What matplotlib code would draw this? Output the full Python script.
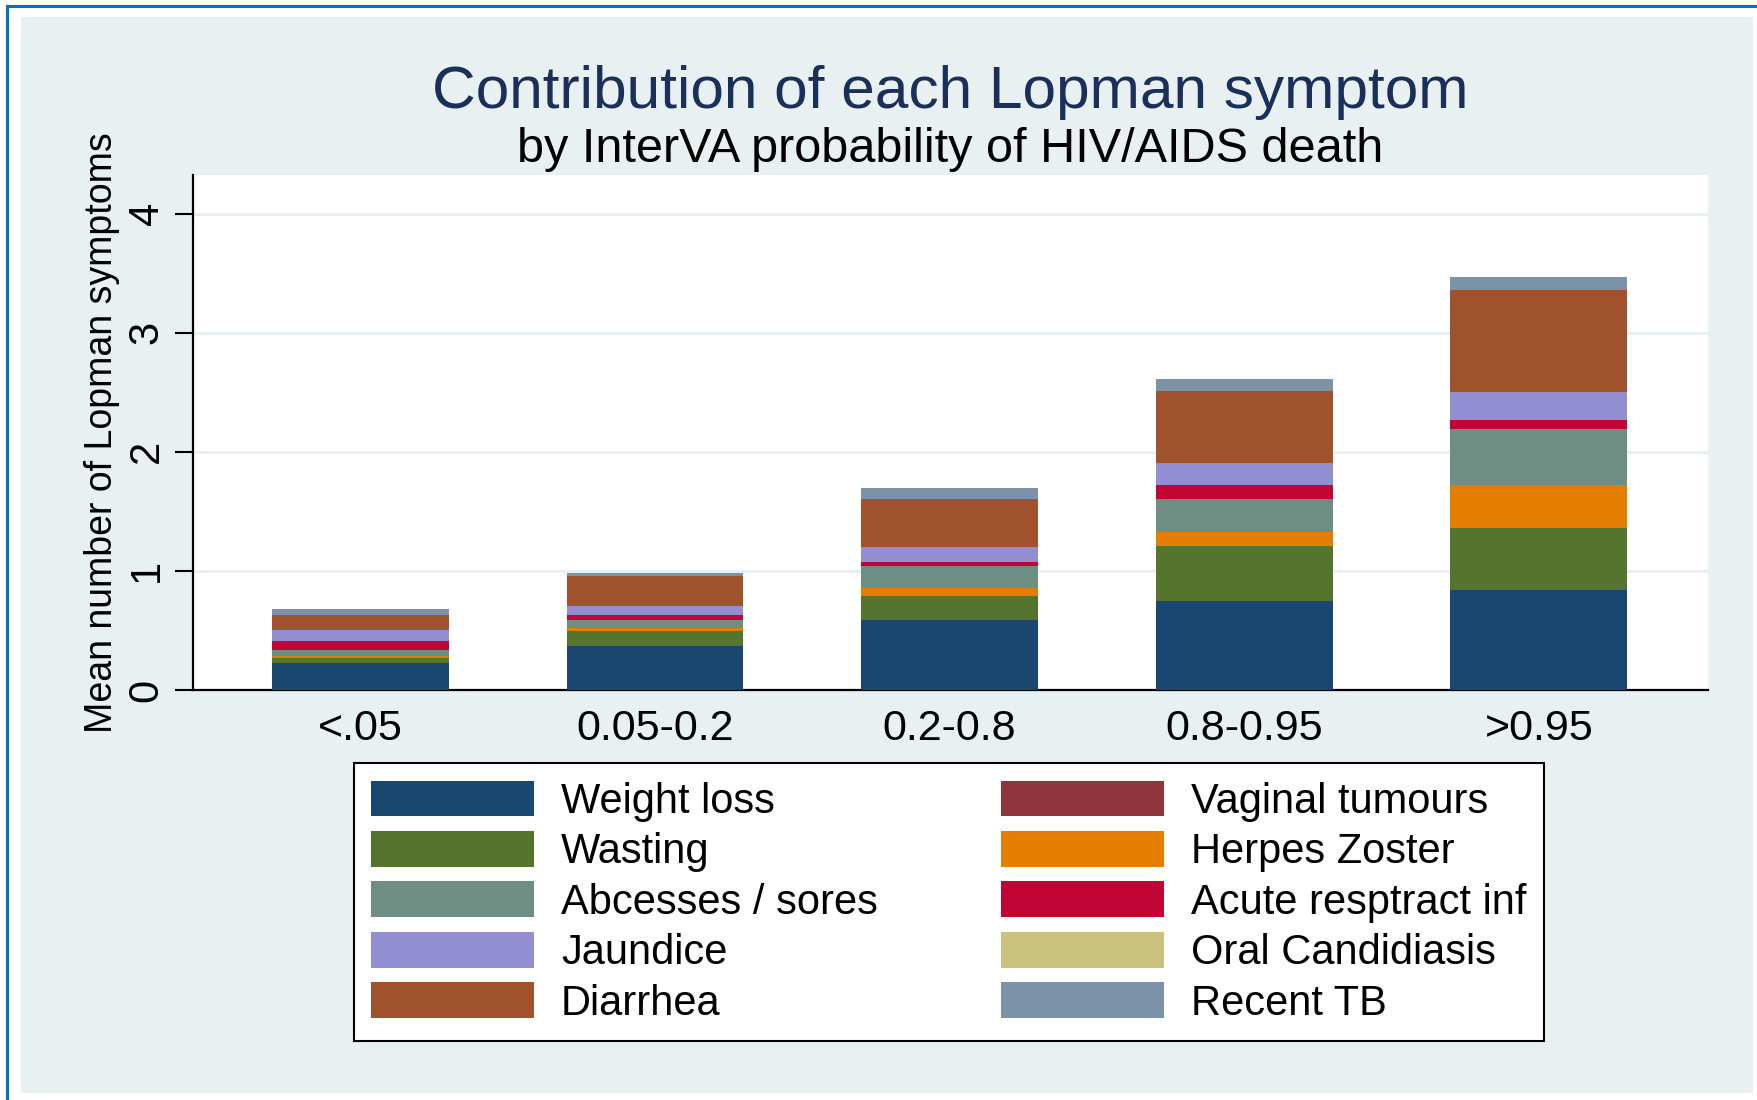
import numpy as np
import matplotlib
matplotlib.use("Agg")
import matplotlib.pyplot as plt
from matplotlib.patches import Rectangle, Patch
from matplotlib.lines import Line2D

plt.rcParams['font.family'] = ['Liberation Sans', 'DejaVu Sans']

# categories of InterVA probability
groups = ["<.05", "0.05-0.2", "0.2-0.8", "0.8-0.95", ">0.95"]

# mean number of symptoms, stacked bottom to top
weight_loss = [0.224, 0.369, 0.590, 0.747, 0.840]
vaginal_tumours = [0.0, 0.0, 0.0, 0.0, 0.0]
wasting = [0.045, 0.129, 0.199, 0.460, 0.520]
herpes_zoster = [0.014, 0.025, 0.067, 0.120, 0.361]
abcesses = [0.053, 0.067, 0.185, 0.277, 0.468]
acute_resp = [0.075, 0.037, 0.034, 0.117, 0.075]
jaundice = [0.095, 0.078, 0.128, 0.182, 0.236]
oral_candidiasis = [0.0, 0.0, 0.0, 0.0, 0.0]
diarrhea = [0.124, 0.255, 0.401, 0.608, 0.861]
recent_tb = [0.048, 0.020, 0.092, 0.100, 0.109]

series = [
    ("Weight loss", weight_loss, "#1A476F"),
    ("Vaginal tumours", vaginal_tumours, "#90353B"),
    ("Wasting", wasting, "#55752F"),
    ("Herpes Zoster", herpes_zoster, "#E37E00"),
    ("Abcesses / sores", abcesses, "#6E8E84"),
    ("Acute resptract inf", acute_resp, "#C10534"),
    ("Jaundice", jaundice, "#938DD2"),
    ("Oral Candidiasis", oral_candidiasis, "#CAC27E"),
    ("Diarrhea", diarrhea, "#A0522D"),
    ("Recent TB", recent_tb, "#7B92A8"),
]

fig = plt.figure(figsize=(17.58, 11), dpi=100)
fig.patch.set_facecolor("white")

# light background panel + blue frame
fig.patches.append(Rectangle((21/1758, 1-1093/1100), (1753-21)/1758, (1093-17)/1100,
                             transform=fig.transFigure, facecolor="#E8F0F2", edgecolor="none", zorder=-10))
fig.lines.append(Line2D([7/1758, 7/1758], [0, 1-6/1100], transform=fig.transFigure, color="#0070C0", lw=2.2))
fig.lines.append(Line2D([7/1758, 1], [1-6/1100, 1-6/1100], transform=fig.transFigure, color="#0070C0", lw=2.2))

ax = fig.add_axes([193/1758, 1-690/1100, (1708-193)/1758, (690-175)/1100])
ax.set_facecolor("white")

x = np.arange(len(groups))
bottom = np.zeros(len(groups))
handles = {}
for name, vals, col in series:
    vals = np.array(vals)
    ax.bar(x, vals, 0.6, bottom=bottom, color=col, linewidth=0, zorder=3)
    bottom += vals
    handles[name] = Patch(facecolor=col, edgecolor="none")

ax.set_xlim(-0.5676, 4.574)
ax.set_ylim(0, 4.324)
ax.set_yticks([0, 1, 2, 3, 4])
ax.set_yticklabels(["0", "1", "2", "3", "4"], rotation=90, va="center")
ax.set_xticks(x)
ax.set_xticklabels(groups)
ax.tick_params(axis="x", length=0, pad=14, labelsize=31)
ax.tick_params(axis="y", length=13, width=1.5, pad=6, labelsize=30)
ax.grid(axis="y", color="#E8F0F2", linewidth=2.2, zorder=0)
ax.set_axisbelow(True)
for s in ["top", "right"]:
    ax.spines[s].set_visible(False)
ax.spines["left"].set_linewidth(1.6)
ax.spines["bottom"].set_linewidth(1.6)
ax.set_ylabel("Mean number of Lopman symptoms", fontsize=27, labelpad=5)

fig.text(950/1758, 1-92/1100, "Contribution of each Lopman symptom", fontsize=43.5,
         color="#1A2F5A", ha="center", va="center")
fig.text(950/1758, 1-150/1100, "by InterVA probability of HIV/AIDS death", fontsize=35,
         color="black", ha="center", va="center")

# legend filled row by row like the original
order = ["Weight loss", "Wasting", "Abcesses / sores", "Jaundice", "Diarrhea",
         "Vaginal tumours", "Herpes Zoster", "Acute resptract inf", "Oral Candidiasis", "Recent TB"]
leg = fig.legend([handles[n] for n in order], order, ncol=2, loc="upper left",
                 bbox_to_anchor=(354/1758, 1-1040/1100, (1544-354)/1758, (1040-763)/1100),
                 mode="expand", borderaxespad=0, fontsize=30, handlelength=3.9, handleheight=0.95,
                 handletextpad=0.65, labelspacing=0.22, borderpad=0.42, fancybox=False,
                 frameon=True, edgecolor="black", facecolor="white", framealpha=1)
leg.get_frame().set_linewidth(1.5)

plt.savefig("out.png", dpi=100)
